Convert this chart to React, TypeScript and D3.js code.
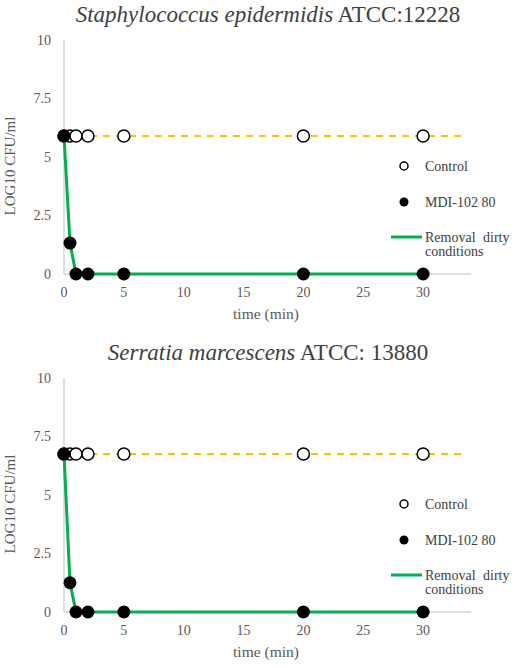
import React from 'react';
import * as d3 from 'd3';

// sampling times (min)
const controlTimes = [0, 0.5, 1, 2, 5, 20, 30];
const treatedTimes = [0, 0.5, 1, 2, 5, 20, 30];

// panel 1: Staphylococcus epidermidis
const staphControl = [5.9, 5.9, 5.9, 5.9, 5.9, 5.9, 5.9];
const staphTreated = [5.9, 1.32, 0, 0, 0, 0, 0];

// panel 2: Serratia marcescens
const serraControl = [6.75, 6.75, 6.75, 6.75, 6.75, 6.75, 6.75];
const serraTreated = [6.75, 1.25, 0, 0, 0, 0, 0];

const yTicks = [0, 2.5, 5, 7.5, 10];
const xTicks = [0, 5, 10, 15, 20, 25, 30];
const legendLabels = ['Control', 'MDI-102 80', 'Removal dirty', 'conditions'];

const GREEN = '#00B050';
const GOLD = '#FFC000';
const serif: React.CSSProperties = { fontFamily: 'Liberation Serif' };

interface PanelProps {
  top: number;
  italic: string;
  rest: string;
  control: number[];
  treated: number[];
}

const Panel: React.FC<PanelProps> = ({ top, italic, rest, control, treated }) => {
  const left = 64;
  const right = 471;
  const plotTop = top + 40;
  const plotBottom = top + 274;

  const x = d3.scaleLinear().domain([0, 34]).range([left, right]);
  const y = d3.scaleLinear().domain([0, 10]).range([plotBottom, plotTop]);

  const ctrlPts: [number, number][] = controlTimes.map((t, i) => [x(t), y(control[i])]);
  const trtPts: [number, number][] = treatedTimes.map((t, i) => [x(t), y(treated[i])]);
  const line = d3.line();
  const dashed = line([[x(0), y(control[0])], [x(33.6), y(control[control.length - 1])]]) || '';

  const legX = 404;
  const legY = top + 166;

  return (
    <g>
      <text x={268} y={top + 22} textAnchor="middle" fontSize={23} fill="#404040" style={serif}>
        <tspan fontStyle="italic">{italic}</tspan>
        <tspan>{rest}</tspan>
      </text>

      {/* axes */}
      <line x1={left} x2={left} y1={plotTop} y2={plotBottom} stroke="#bfbfbf" />
      <line x1={left} x2={right} y1={plotBottom} y2={plotBottom} stroke="#bfbfbf" />

      {yTicks.map(t => (
        <text key={'y' + t} x={left - 13} y={y(t)} dy="0.35em" textAnchor="end" fontSize={14} fill="#595959" style={serif}>
          {t}
        </text>
      ))}
      {xTicks.map(t => (
        <text key={'x' + t} x={x(t)} y={plotBottom + 18} dy="0.35em" textAnchor="middle" fontSize={14} fill="#595959" style={serif}>
          {t}
        </text>
      ))}

      <text x={266} y={plotBottom + 40} dy="0.35em" textAnchor="middle" fontSize={15.5} fill="#595959" style={serif}>
        time (min)
      </text>
      <text
        transform={`translate(10, ${(plotTop + plotBottom) / 2 + 9}) rotate(-90)`}
        textAnchor="middle"
        dy="0.35em"
        fontSize={15}
        fill="#595959"
        style={serif}
      >
        LOG10 CFU/ml
      </text>

      {/* control */}
      <path d={dashed} fill="none" stroke={GOLD} strokeWidth={2} strokeDasharray="7,6" />
      {ctrlPts.map((p, i) => (
        <circle key={'c' + i} cx={p[0]} cy={p[1]} r={6} fill="white" stroke="black" strokeWidth={1.5} />
      ))}

      {/* treated */}
      <path d={line(trtPts) || ''} fill="none" stroke={GREEN} strokeWidth={3} />
      {trtPts.map((p, i) => (
        <circle key={'t' + i} cx={p[0]} cy={p[1]} r={6.5} fill="black" />
      ))}

      {/* legend */}
      <circle cx={legX} cy={legY} r={4} fill="white" stroke="black" strokeWidth={1.5} />
      <text x={legX + 21} y={legY} dy="0.35em" fontSize={14} fill="#404040" style={serif}>{legendLabels[0]}</text>
      <circle cx={legX} cy={legY + 36} r={4.5} fill="black" />
      <text x={legX + 21} y={legY + 36} dy="0.35em" fontSize={14} fill="#404040" style={serif}>{legendLabels[1]}</text>
      <line x1={391} x2={422} y1={legY + 71} y2={legY + 71} stroke={GREEN} strokeWidth={3} />
      <text x={legX + 21} y={legY + 71} dy="0.35em" fontSize={14} fill="#404040" wordSpacing={4} style={serif}>{legendLabels[2]}</text>
      <text x={legX + 21} y={legY + 85} dy="0.35em" fontSize={14} fill="#404040" style={serif}>{legendLabels[3]}</text>
    </g>
  );
};

export default function App() {
  return (
    <svg width={516} height={668} style={{ position: 'absolute', left: 0, top: 0, background: 'white' }}>
      <rect width={516} height={668} fill="white" />
      <Panel top={0} italic="Staphylococcus epidermidis" rest=" ATCC:12228" control={staphControl} treated={staphTreated} />
      <Panel top={338} italic="Serratia marcescens" rest=" ATCC: 13880" control={serraControl} treated={serraTreated} />
    </svg>
  );
}
